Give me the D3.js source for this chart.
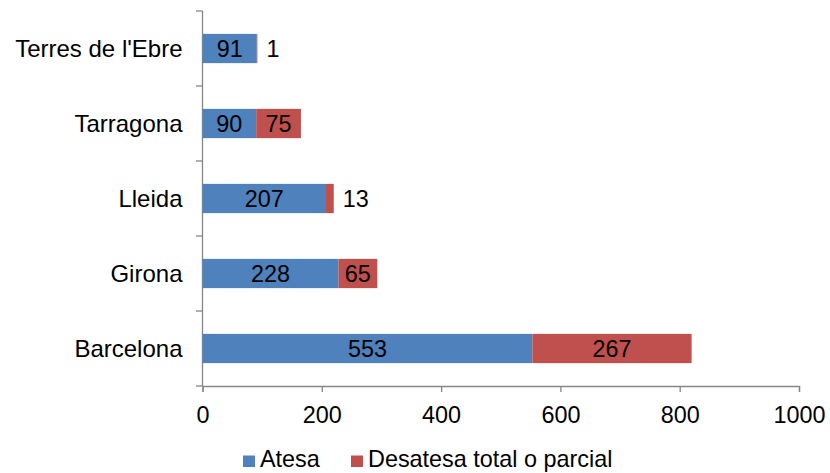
<!DOCTYPE html>
<html><head><meta charset="utf-8">
<script src="https://cdn.jsdelivr.net/npm/d3@7"></script>
<style>body{margin:0;background:#fff}text{font-family:"Liberation Sans",Arial,sans-serif}</style>
</head><body><svg id="c" width="830" height="473"></svg>
<script>
const categories = ["Terres de l'Ebre","Tarragona","Lleida","Girona","Barcelona"];
const atesa = [91,90,207,228,553];
const desatesa = [1,75,13,65,267];
const seriesNames = ["Atesa","Desatesa total o parcial"];
const colors = ["#4F81BD","#C0504D"];
const xTicks = [0,200,400,600,800,1000];

const svg = d3.select("#c");
const fs = 23.4;
const fsCat = 24;
const x = d3.scaleLinear().domain([0,1000]).range([202.5,799]);
const y = d3.scaleBand().domain(categories).range([11,386]).paddingInner(0.61).paddingOuter(0.305);
const axisColor = "#868686";

// axes
const gx = svg.append("g").attr("transform","translate(0,386)")
  .call(d3.axisBottom(x).tickValues(xTicks).tickFormat(d3.format("d")).tickSize(6).tickPadding(14));
gx.select(".domain").attr("stroke",axisColor).attr("stroke-width",1.3);
gx.selectAll(".tick line").attr("stroke",axisColor).attr("stroke-width",1.3);
gx.selectAll("text").attr("font-size",fs).attr("fill","#000");

const yEdges = d3.range(categories.length+1).map(i=>11+i*75);
const gy = svg.append("g");
gy.append("line").attr("x1",202.5).attr("x2",202.5).attr("y1",11).attr("y2",386).attr("stroke",axisColor).attr("stroke-width",1.3);
gy.selectAll("line.t").data(yEdges).join("line").attr("class","t")
  .attr("x1",196).attr("x2",202.5).attr("y1",d=>d).attr("y2",d=>d).attr("stroke",axisColor).attr("stroke-width",1.3);
gy.selectAll("text").data(categories).join("text")
  .attr("x",182.5).attr("y",d=>y(d)+y.bandwidth()/2).attr("dy","0.35em")
  .attr("text-anchor","end").attr("font-size",fsCat).attr("fill","#000").text(d=>d);

// bars
const stackData = categories.map((c,i)=>({cat:c, vals:[atesa[i],desatesa[i]]}));
stackData.forEach(d=>{
  let x0=0;
  d.vals.forEach((v,si)=>{
    const xs = x(x0), xe = x(x0+v);
    svg.append("rect").attr("x",xs).attr("y",y(d.cat)).attr("width",xe-xs).attr("height",y.bandwidth()).attr("fill",colors[si]);
    const w = xe-xs;
    const t = svg.append("text").attr("y",y(d.cat)+y.bandwidth()/2).attr("dy","0.35em").attr("font-size",fs).attr("fill","#000").text(v);
    if (w < 30) t.attr("x",xe+9).attr("text-anchor","start");
    else t.attr("x",(xs+xe)/2).attr("text-anchor","middle");
    x0+=v;
  });
});

// legend
const leg = svg.append("g");
const legX = [243,351];
seriesNames.forEach((n,i)=>{
  leg.append("rect").attr("x",legX[i]).attr("y",455.5).attr("width",12).attr("height",11.5).attr("fill",colors[i]);
  leg.append("text").attr("x",legX[i]+17).attr("y",466.5).attr("font-size",fs).attr("fill","#000").text(n);
});
</script></body></html>
